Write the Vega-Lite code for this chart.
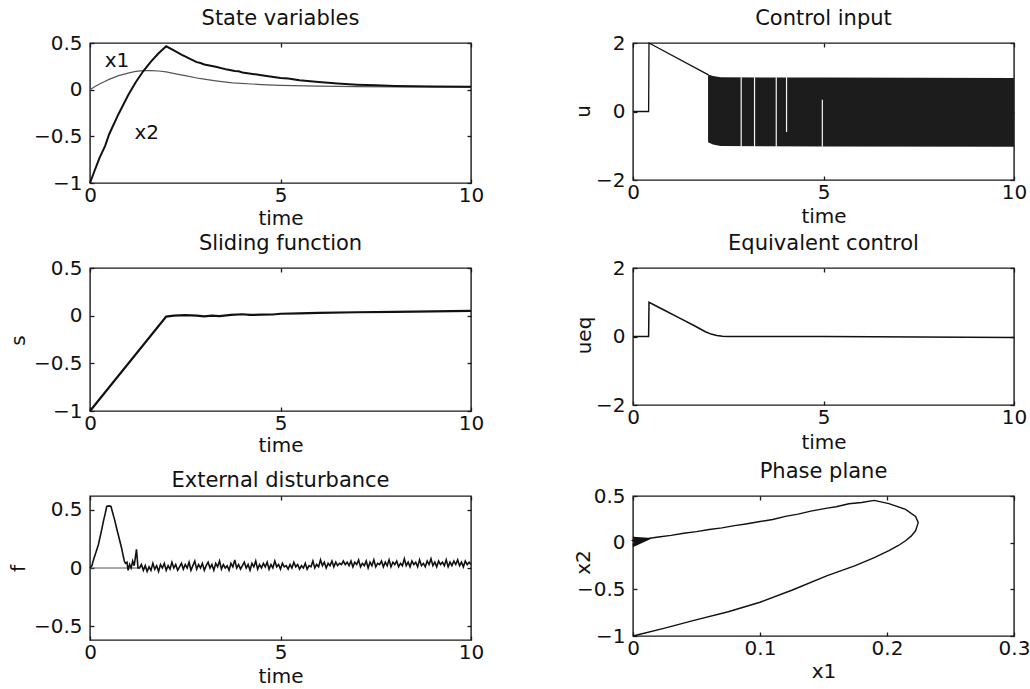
{
"$schema": "https://vega.github.io/schema/vega-lite/v6.json",
"background": "white",
"padding": {"left": 7, "top": 7, "right": 0, "bottom": 0},
"bounds": "flush",
"columns": 2,
"spacing": {"row": 85, "column": 162},
"config": {
  "font": "DejaVu Sans",
  "view": {"stroke": "#1a1a1a", "strokeWidth": 1.4},
  "axis": {"grid": false, "domain": false, "labelFont": "DejaVu Sans", "labelFontSize": 20, "labelColor": "#111", "titleFont": "DejaVu Sans", "titleFontSize": 20, "titleFontWeight": "normal", "titleColor": "#111", "tickColor": "#1a1a1a", "tickWidth": 1.3, "labelFlush": false, "labelOverlap": false},
  "title": {"font": "DejaVu Sans", "fontSize": 21, "fontWeight": "normal", "color": "#111", "offset": 0, "baseline": "alphabetic", "frame": "group", "anchor": "middle"}
},
"datasets": {
  "x1": [{"t":0,"v":0},{"t":0.1,"v":0.025},{"t":0.25,"v":0.06},{"t":0.4,"v":0.09},{"t":0.5,"v":0.11},{"t":0.75,"v":0.15},{"t":1,"v":0.178},{"t":1.2,"v":0.195},{"t":1.4,"v":0.203},{"t":1.6,"v":0.205},{"t":1.8,"v":0.2},{"t":2,"v":0.19},{"t":2.25,"v":0.17},{"t":2.5,"v":0.15},{"t":2.87,"v":0.12},{"t":3.3,"v":0.095},{"t":3.74,"v":0.072},{"t":4.5,"v":0.055},{"t":5,"v":0.047},{"t":6,"v":0.038},{"t":7,"v":0.033},{"t":8,"v":0.03},{"t":10,"v":0.027}],
  "x2": [{"t":0,"v":-1},{"t":0.1,"v":-0.89},{"t":0.25,"v":-0.73},{"t":0.4,"v":-0.6},{"t":0.5,"v":-0.48},{"t":0.75,"v":-0.26},{"t":1,"v":-0.06},{"t":1.2,"v":0.08},{"t":1.4,"v":0.2},{"t":1.6,"v":0.3},{"t":1.8,"v":0.39},{"t":2,"v":0.465},{"t":2.2,"v":0.42},{"t":2.4,"v":0.375},{"t":2.6,"v":0.335},{"t":2.8,"v":0.295},{"t":2.9,"v":0.285},{"t":3.0,"v":0.27},{"t":3.3,"v":0.245},{"t":3.6,"v":0.215},{"t":3.8,"v":0.2},{"t":3.9,"v":0.198},{"t":4.0,"v":0.185},{"t":4.5,"v":0.155},{"t":5,"v":0.125},{"t":5.2,"v":0.12},{"t":5.5,"v":0.1},{"t":6,"v":0.082},{"t":6.5,"v":0.066},{"t":7,"v":0.054},{"t":7.5,"v":0.046},{"t":8,"v":0.04},{"t":9,"v":0.034},{"t":10,"v":0.03}],
  "labels1": [{"t":0.71,"v":0.31,"lab":"x1"},{"t":1.49,"v":-0.46,"lab":"x2"}],
  "u": [{"t":0,"v":0},{"t":0.41,"v":0},{"t":0.42,"v":2},{"t":1.98,"v":1.07}],
  "band": [{"t":1.97,"hi":1.08,"lo":-0.9},{"t":2.1,"hi":1.04,"lo":-0.96},{"t":2.3,"hi":1.0,"lo":-1.01},{"t":5,"hi":0.99,"lo":-1.02},{"t":10,"hi":0.98,"lo":-1.03}],
  "gaps": [{"t":2.84,"hi":1.0,"lo":-1.03},{"t":3.19,"hi":1.0,"lo":-1.03},{"t":3.76,"hi":1.0,"lo":-1.03},{"t":4.03,"hi":1.0,"lo":-0.6},{"t":4.97,"hi":0.34,"lo":-1.03}],
  "s": [{"t":0,"v":-1},{"t":2.0,"v":-0.01},{"t":2.2,"v":0.0},{"t":2.5,"v":0.005},{"t":2.8,"v":0.0},{"t":3.0,"v":-0.008},{"t":3.2,"v":0.0},{"t":3.4,"v":-0.005},{"t":3.7,"v":0.008},{"t":4.0,"v":0.015},{"t":4.2,"v":0.008},{"t":4.5,"v":0.01},{"t":4.8,"v":0.012},{"t":5.0,"v":0.02},{"t":5.5,"v":0.025},{"t":6.0,"v":0.03},{"t":7.0,"v":0.036},{"t":8.0,"v":0.04},{"t":9.0,"v":0.045},{"t":10,"v":0.05}],
  "ueq": [{"t":0,"v":0},{"t":0.41,"v":0},{"t":0.42,"v":1.0},{"t":0.8,"v":0.78},{"t":1.2,"v":0.55},{"t":1.6,"v":0.32},{"t":1.9,"v":0.14},{"t":2.05,"v":0.07},{"t":2.2,"v":0.03},{"t":2.35,"v":0.005},{"t":2.5,"v":0.0},{"t":5,"v":0.0},{"t":10,"v":-0.03}],
  "f0": [{"t":0,"v":0},{"t":1.3,"v":0}],
  "f": [{"t":0,"v":0},{"t":0.05,"v":0.02},{"t":0.1,"v":0.08},{"t":0.15,"v":0.13},{"t":0.22,"v":0.2},{"t":0.3,"v":0.32},{"t":0.35,"v":0.4},{"t":0.4,"v":0.47},{"t":0.44,"v":0.53},{"t":0.5,"v":0.535},{"t":0.55,"v":0.53},{"t":0.6,"v":0.47},{"t":0.65,"v":0.41},{"t":0.7,"v":0.34},{"t":0.77,"v":0.25},{"t":0.83,"v":0.17},{"t":0.9,"v":0.06},{"t":0.93,"v":0.04},{"t":0.97,"v":0.05},{"t":1.0,"v":-0.02},{"t":1.04,"v":0.03},{"t":1.08,"v":0.0},{"t":1.12,"v":0.06},{"t":1.16,"v":0.02},{"t":1.22,"v":0.16},{"t":1.26,"v":0.0},
  {"t":1.30,"v":0},{"t":1.35,"v":0.03},{"t":1.40,"v":-0.02},{"t":1.45,"v":0.02},{"t":1.50,"v":-0.03},{"t":1.55,"v":0.01},{"t":1.60,"v":-0.02},{"t":1.65,"v":0.04},{"t":1.70,"v":-0.01},{"t":1.75,"v":0.02},{"t":1.80,"v":-0.03},{"t":1.85,"v":0.03},{"t":1.90,"v":0},{"t":1.95,"v":0.04},{"t":2.00,"v":-0.02},{"t":2.05,"v":0.02},{"t":2.10,"v":-0.01},{"t":2.15,"v":0.05},{"t":2.20,"v":0},{"t":2.25,"v":0.03},{"t":2.30,"v":-0.02},{"t":2.35,"v":0.01},{"t":2.40,"v":0.04},{"t":2.45,"v":-0.01},{"t":2.50,"v":0.03},{"t":2.55,"v":0},{"t":2.60,"v":0.05},{"t":2.65,"v":-0.02},{"t":2.70,"v":0.02},{"t":2.75,"v":0.06},{"t":2.80,"v":-0.01},{"t":2.85,"v":0.03},{"t":2.90,"v":0},{"t":2.95,"v":0.04},{"t":3.00,"v":-0.02},{"t":3.05,"v":0.02},{"t":3.10,"v":0.05},{"t":3.15,"v":0},{"t":3.20,"v":0.03},{"t":3.25,"v":-0.02},{"t":3.30,"v":0.04},{"t":3.35,"v":0.01},{"t":3.40,"v":0.06},{"t":3.45,"v":-0.01},{"t":3.50,"v":0.03},{"t":3.55,"v":0},{"t":3.60,"v":0.02},{"t":3.65,"v":-0.02},{"t":3.70,"v":0.04},{"t":3.75,"v":0.01},{"t":3.80,"v":0.07},{"t":3.85,"v":0},{"t":3.90,"v":0.03},{"t":3.95,"v":-0.01},{"t":4.00,"v":0.02},{"t":4.05,"v":0.05},{"t":4.10,"v":0},{"t":4.15,"v":0.03},{"t":4.20,"v":-0.02},{"t":4.25,"v":0.04},{"t":4.30,"v":0.01},{"t":4.35,"v":0.06},{"t":4.40,"v":-0.01},{"t":4.45,"v":0.03},{"t":4.50,"v":0},{"t":4.55,"v":0.04},{"t":4.60,"v":0.01},{"t":4.65,"v":0.05},{"t":4.70,"v":-0.01},{"t":4.75,"v":0.03},{"t":4.80,"v":0},{"t":4.85,"v":0.06},{"t":4.90,"v":0.01},{"t":4.95,"v":0.03},{"t":5.00,"v":-0.01},{"t":5.05,"v":0.04},{"t":5.10,"v":0.01},{"t":5.15,"v":0.02},{"t":5.20,"v":-0.01},{"t":5.25,"v":0.03},{"t":5.30,"v":0},{"t":5.35,"v":0.05},{"t":5.40,"v":0.01},{"t":5.45,"v":0.03},{"t":5.50,"v":-0.01},{"t":5.55,"v":0.02},{"t":5.60,"v":0},{"t":5.65,"v":0.04},{"t":5.70,"v":-0.01},{"t":5.75,"v":0.02},{"t":5.80,"v":0.01},{"t":5.85,"v":0.06},{"t":5.90,"v":0},{"t":5.95,"v":0.03},{"t":6.00,"v":0.01},{"t":6.05,"v":0.07},{"t":6.10,"v":0.02},{"t":6.15,"v":0.05},{"t":6.20,"v":0},{"t":6.25,"v":0.04},{"t":6.30,"v":0.02},{"t":6.35,"v":0.06},{"t":6.40,"v":0.01},{"t":6.45,"v":0.05},{"t":6.50,"v":0.02},{"t":6.55,"v":0.04},{"t":6.60,"v":0.03},{"t":6.65,"v":0.06},{"t":6.70,"v":0.03},{"t":6.75,"v":0.05},{"t":6.80,"v":0.02},{"t":6.85,"v":0.06},{"t":6.90,"v":0.01},{"t":6.95,"v":0.05},{"t":7.00,"v":0.03},{"t":7.05,"v":0.07},{"t":7.10,"v":0.01},{"t":7.15,"v":0.04},{"t":7.20,"v":0.02},{"t":7.25,"v":0.06},{"t":7.30,"v":0},{"t":7.35,"v":0.05},{"t":7.40,"v":0.02},{"t":7.45,"v":0.07},{"t":7.50,"v":0.01},{"t":7.55,"v":0.04},{"t":7.60,"v":0.03},{"t":7.65,"v":0.06},{"t":7.70,"v":0.01},{"t":7.75,"v":0.05},{"t":7.80,"v":0.02},{"t":7.85,"v":0.07},{"t":7.90,"v":0.01},{"t":7.95,"v":0.05},{"t":8.00,"v":0.03},{"t":8.05,"v":0.06},{"t":8.10,"v":0.01},{"t":8.15,"v":0.04},{"t":8.20,"v":0.02},{"t":8.25,"v":0.08},{"t":8.30,"v":0.02},{"t":8.35,"v":0.05},{"t":8.40,"v":0.01},{"t":8.45,"v":0.06},{"t":8.50,"v":0.03},{"t":8.55,"v":0.05},{"t":8.60,"v":0.01},{"t":8.65,"v":0.07},{"t":8.70,"v":0.02},{"t":8.75,"v":0.04},{"t":8.80,"v":0.01},{"t":8.85,"v":0.06},{"t":8.90,"v":0.03},{"t":8.95,"v":0.08},{"t":9.00,"v":0.02},{"t":9.05,"v":0.05},{"t":9.10,"v":0.01},{"t":9.15,"v":0.06},{"t":9.20,"v":0.03},{"t":9.25,"v":0.05},{"t":9.30,"v":0.02},{"t":9.35,"v":0.07},{"t":9.40,"v":0.01},{"t":9.45,"v":0.05},{"t":9.50,"v":0.02},{"t":9.55,"v":0.06},{"t":9.60,"v":0.03},{"t":9.65,"v":0.07},{"t":9.70,"v":0.02},{"t":9.75,"v":0.05},{"t":9.80,"v":0.01},{"t":9.85,"v":0.06},{"t":9.90,"v":0.03},{"t":9.95,"v":0.05},{"t":10.0,"v":0.03}],
  "pp": [{"i":0,"a":0,"b":-1},{"i":1,"a":0.025,"b":-0.915},{"i":2,"a":0.048,"b":-0.833},{"i":3,"a":0.075,"b":-0.74},{"i":4,"a":0.1,"b":-0.638},{"i":5,"a":0.125,"b":-0.51},{"i":6,"a":0.153,"b":-0.353},{"i":7,"a":0.175,"b":-0.246},{"i":8,"a":0.19,"b":-0.16},{"i":9,"a":0.2015,"b":-0.086},{"i":10,"a":0.209,"b":-0.03},{"i":11,"a":0.2146,"b":0.02},{"i":12,"a":0.219,"b":0.07},{"i":13,"a":0.2225,"b":0.127},{"i":14,"a":0.2246,"b":0.215},{"i":15,"a":0.2225,"b":0.28},{"i":16,"a":0.2146,"b":0.357},{"i":17,"a":0.2015,"b":0.418},{"i":18,"a":0.19,"b":0.453},{"i":19,"a":0.18,"b":0.43},{"i":20,"a":0.17,"b":0.417},{"i":21,"a":0.16,"b":0.385},{"i":22,"a":0.153,"b":0.37},{"i":23,"a":0.14,"b":0.338},{"i":24,"a":0.13,"b":0.306},{"i":25,"a":0.12,"b":0.282},{"i":26,"a":0.11,"b":0.248},{"i":27,"a":0.1,"b":0.227},{"i":28,"a":0.09,"b":0.203},{"i":29,"a":0.08,"b":0.182},{"i":30,"a":0.07,"b":0.158},{"i":31,"a":0.06,"b":0.141},{"i":32,"a":0.05,"b":0.118},{"i":33,"a":0.04,"b":0.101},{"i":34,"a":0.03,"b":0.078},{"i":35,"a":0.02,"b":0.061},{"i":36,"a":0.012,"b":0.045},{"i":37,"a":0.0,"b":0.055},{"i":38,"a":0.012,"b":0.035},{"i":39,"a":0.0,"b":-0.04},{"i":40,"a":0.01,"b":0.03},{"i":41,"a":0.0,"b":0.045},{"i":42,"a":0.008,"b":0.02},{"i":43,"a":0.0,"b":-0.03},{"i":44,"a":0.007,"b":0.03},{"i":45,"a":0.0,"b":0.035},{"i":46,"a":0.005,"b":0.0},{"i":47,"a":0.0,"b":-0.02},{"i":48,"a":0.004,"b":0.02},{"i":49,"a":0.0,"b":0.02},{"i":50,"a":0.002,"b":0.0}]
},
"concat": [
  {
    "width": 381, "height": 140,
    "title": "State variables",
    "resolve": {"axis": {"x": "independent", "y": "independent"}},
    "layer": [
      {"data": {"name": "x1"}, "mark": {"type": "line", "color": "#555", "strokeWidth": 1.2},
       "encoding": {
         "x": {"field": "t", "type": "quantitative", "scale": {"domain": [0, 10], "nice": false}, "axis": {"orient": "bottom", "values": [0, 5, 10], "format": ".1~f", "ticks": false, "labelPadding": 2, "title": "time", "titleY": 35, "titleBaseline": "middle"}},
         "y": {"field": "v", "type": "quantitative", "scale": {"domain": [-1, 0.5], "nice": false, "zero": false}, "axis": {"orient": "left", "values": [-1, -0.5, 0, 0.5], "format": ".1~f", "ticks": false, "labelPadding": 8, "title": null}}}},
      {"data": {"name": "x2"}, "mark": {"type": "line", "color": "#111", "strokeWidth": 2}, "encoding": {"x": {"field": "t", "type": "quantitative", "scale": {"domain": [0, 10], "nice": false}, "axis": null}, "y": {"field": "v", "type": "quantitative", "scale": {"domain": [-1, 0.5], "nice": false, "zero": false}, "axis": null}}},
      {"data": {"name": "labels1"}, "mark": {"type": "text", "fontSize": 20, "font": "DejaVu Sans", "color": "#111", "align": "center", "baseline": "middle"}, "encoding": {"x": {"field": "t", "type": "quantitative", "scale": {"domain": [0, 10], "nice": false}, "axis": null}, "y": {"field": "v", "type": "quantitative", "scale": {"domain": [-1, 0.5], "nice": false, "zero": false}, "axis": null}, "text": {"field": "lab"}}},
      {"data": {"name": "x1"}, "mark": {"type": "line", "strokeOpacity": 0}, "encoding": {"x": {"field": "t", "type": "quantitative", "scale": {"domain": [0, 10], "nice": false}, "axis": {"orient": "top", "values": [0, 5, 10], "labels": false, "tickSize": -4, "title": null}}, "y": {"field": "v", "type": "quantitative", "scale": {"domain": [-1, 0.5], "nice": false, "zero": false}, "axis": {"orient": "right", "values": [-1, -0.5, 0, 0.5], "labels": false, "tickSize": -4, "title": null}}}},
      {"data": {"name": "x1"}, "mark": {"type": "line", "strokeOpacity": 0}, "encoding": {"x": {"field": "t", "type": "quantitative", "scale": {"domain": [0, 10], "nice": false}, "axis": {"orient": "bottom", "values": [0, 5, 10], "labels": false, "tickSize": -4, "title": null}}, "y": {"field": "v", "type": "quantitative", "scale": {"domain": [-1, 0.5], "nice": false, "zero": false}, "axis": {"orient": "left", "values": [-1, -0.5, 0, 0.5], "labels": false, "tickSize": -4, "title": null}}}}
    ]
  },
  {
    "width": 381, "height": 137,
    "title": "Control input",
    "resolve": {"axis": {"x": "independent", "y": "independent"}},
    "layer": [
      {"data": {"name": "u"}, "mark": {"type": "line", "color": "#111", "strokeWidth": 1.3},
       "encoding": {
         "x": {"field": "t", "type": "quantitative", "scale": {"domain": [0, 10], "nice": false}, "axis": {"orient": "bottom", "values": [0, 5, 10], "format": ".1~f", "ticks": false, "labelPadding": 2, "title": "time", "titleY": 36, "titleBaseline": "middle"}},
         "y": {"field": "v", "type": "quantitative", "scale": {"domain": [-2, 2], "nice": false, "zero": false}, "axis": {"orient": "left", "values": [-2, 0, 2], "format": ".1~f", "ticks": false, "labelPadding": 8, "title": "u", "titleX": -50, "titleY": 68, "titleAngle": 270, "titleBaseline": "middle", "titleAlign": "center"}}}},
      {"data": {"name": "band"}, "mark": {"type": "area", "color": "#1c1c1c", "opacity": 1}, "encoding": {"x": {"field": "t", "type": "quantitative", "scale": {"domain": [0, 10], "nice": false}, "axis": null}, "y": {"field": "hi", "type": "quantitative", "scale": {"domain": [-2, 2], "nice": false, "zero": false}, "axis": null}, "y2": {"field": "lo"}}},
      {"data": {"name": "gaps"}, "mark": {"type": "rule", "color": "#f4f4f4", "strokeWidth": 1.2}, "encoding": {"x": {"field": "t", "type": "quantitative", "scale": {"domain": [0, 10], "nice": false}, "axis": null}, "y": {"field": "hi", "type": "quantitative", "scale": {"domain": [-2, 2], "nice": false, "zero": false}, "axis": null}, "y2": {"field": "lo"}}},
      {"data": {"name": "u"}, "mark": {"type": "line", "strokeOpacity": 0}, "encoding": {"x": {"field": "t", "type": "quantitative", "scale": {"domain": [0, 10], "nice": false}, "axis": {"orient": "top", "values": [0, 5, 10], "labels": false, "tickSize": -4, "title": null}}, "y": {"field": "v", "type": "quantitative", "scale": {"domain": [-2, 2], "nice": false, "zero": false}, "axis": {"orient": "right", "values": [-2, 0, 2], "labels": false, "tickSize": -4, "title": null}}}},
      {"data": {"name": "u"}, "mark": {"type": "line", "strokeOpacity": 0}, "encoding": {"x": {"field": "t", "type": "quantitative", "scale": {"domain": [0, 10], "nice": false}, "axis": {"orient": "bottom", "values": [0, 5, 10], "labels": false, "tickSize": -4, "title": null}}, "y": {"field": "v", "type": "quantitative", "scale": {"domain": [-2, 2], "nice": false, "zero": false}, "axis": {"orient": "left", "values": [-2, 0, 2], "labels": false, "tickSize": -4, "title": null}}}}
    ]
  },
  {
    "width": 381, "height": 143,
    "title": "Sliding function",
    "resolve": {"axis": {"x": "independent", "y": "independent"}},
    "layer": [
      {"data": {"name": "s"}, "mark": {"type": "line", "color": "#111", "strokeWidth": 2.2},
       "encoding": {
         "x": {"field": "t", "type": "quantitative", "scale": {"domain": [0, 10], "nice": false}, "axis": {"orient": "bottom", "values": [0, 5, 10], "format": ".1~f", "ticks": false, "labelPadding": 2, "title": "time", "titleY": 34, "titleBaseline": "middle"}},
         "y": {"field": "v", "type": "quantitative", "scale": {"domain": [-1, 0.5], "nice": false, "zero": false}, "axis": {"orient": "left", "values": [-1, -0.5, 0, 0.5], "format": ".1~f", "ticks": false, "labelPadding": 8, "title": "s", "titleX": -72, "titleY": 72, "titleAngle": 270, "titleBaseline": "middle", "titleAlign": "center"}}}},
      {"data": {"name": "s"}, "mark": {"type": "line", "strokeOpacity": 0}, "encoding": {"x": {"field": "t", "type": "quantitative", "scale": {"domain": [0, 10], "nice": false}, "axis": {"orient": "top", "values": [0, 5, 10], "labels": false, "tickSize": -4, "title": null}}, "y": {"field": "v", "type": "quantitative", "scale": {"domain": [-1, 0.5], "nice": false, "zero": false}, "axis": {"orient": "right", "values": [-1, -0.5, 0, 0.5], "labels": false, "tickSize": -4, "title": null}}}},
      {"data": {"name": "s"}, "mark": {"type": "line", "strokeOpacity": 0}, "encoding": {"x": {"field": "t", "type": "quantitative", "scale": {"domain": [0, 10], "nice": false}, "axis": {"orient": "bottom", "values": [0, 5, 10], "labels": false, "tickSize": -4, "title": null}}, "y": {"field": "v", "type": "quantitative", "scale": {"domain": [-1, 0.5], "nice": false, "zero": false}, "axis": {"orient": "left", "values": [-1, -0.5, 0, 0.5], "labels": false, "tickSize": -4, "title": null}}}}
    ]
  },
  {
    "width": 381, "height": 137,
    "title": "Equivalent control",
    "resolve": {"axis": {"x": "independent", "y": "independent"}},
    "layer": [
      {"data": {"name": "ueq"}, "mark": {"type": "line", "color": "#111", "strokeWidth": 1.5},
       "encoding": {
         "x": {"field": "t", "type": "quantitative", "scale": {"domain": [0, 10], "nice": false}, "axis": {"orient": "bottom", "values": [0, 5, 10], "format": ".1~f", "ticks": false, "labelPadding": 2, "title": "time", "titleY": 37, "titleBaseline": "middle"}},
         "y": {"field": "v", "type": "quantitative", "scale": {"domain": [-2, 2], "nice": false, "zero": false}, "axis": {"orient": "left", "values": [-2, 0, 2], "format": ".1~f", "ticks": false, "labelPadding": 8, "title": "ueq", "titleX": -49, "titleY": 67, "titleAngle": 270, "titleBaseline": "middle", "titleAlign": "center"}}}},
      {"data": {"name": "ueq"}, "mark": {"type": "line", "strokeOpacity": 0}, "encoding": {"x": {"field": "t", "type": "quantitative", "scale": {"domain": [0, 10], "nice": false}, "axis": {"orient": "top", "values": [0, 5, 10], "labels": false, "tickSize": -4, "title": null}}, "y": {"field": "v", "type": "quantitative", "scale": {"domain": [-2, 2], "nice": false, "zero": false}, "axis": {"orient": "right", "values": [-2, 0, 2], "labels": false, "tickSize": -4, "title": null}}}},
      {"data": {"name": "ueq"}, "mark": {"type": "line", "strokeOpacity": 0}, "encoding": {"x": {"field": "t", "type": "quantitative", "scale": {"domain": [0, 10], "nice": false}, "axis": {"orient": "bottom", "values": [0, 5, 10], "labels": false, "tickSize": -4, "title": null}}, "y": {"field": "v", "type": "quantitative", "scale": {"domain": [-2, 2], "nice": false, "zero": false}, "axis": {"orient": "left", "values": [-2, 0, 2], "labels": false, "tickSize": -4, "title": null}}}}
    ]
  },
  {
    "width": 381, "height": 144,
    "title": "External disturbance",
    "resolve": {"axis": {"x": "independent", "y": "independent"}},
    "layer": [
      {"data": {"name": "f0"}, "mark": {"type": "line", "color": "#555", "strokeWidth": 1},
       "encoding": {
         "x": {"field": "t", "type": "quantitative", "scale": {"domain": [0, 10], "nice": false}, "axis": {"orient": "bottom", "values": [0, 5, 10], "format": ".1~f", "ticks": false, "labelPadding": 2, "title": "time", "titleY": 36, "titleBaseline": "middle"}},
         "y": {"field": "v", "type": "quantitative", "scale": {"domain": [-0.62, 0.62], "nice": false, "zero": false}, "axis": {"orient": "left", "values": [-0.5, 0, 0.5], "format": ".1~f", "ticks": false, "labelPadding": 8, "title": "f", "titleX": -72, "titleY": 72, "titleAngle": 270, "titleBaseline": "middle", "titleAlign": "center"}}}},
      {"data": {"name": "f"}, "mark": {"type": "line", "color": "#111", "strokeWidth": 1.6}, "encoding": {"x": {"field": "t", "type": "quantitative", "scale": {"domain": [0, 10], "nice": false}, "axis": null}, "y": {"field": "v", "type": "quantitative", "scale": {"domain": [-0.62, 0.62], "nice": false, "zero": false}, "axis": null}}},
      {"data": {"name": "f0"}, "mark": {"type": "line", "strokeOpacity": 0}, "encoding": {"x": {"field": "t", "type": "quantitative", "scale": {"domain": [0, 10], "nice": false}, "axis": {"orient": "top", "values": [0, 5, 10], "labels": false, "tickSize": -4, "title": null}}, "y": {"field": "v", "type": "quantitative", "scale": {"domain": [-0.62, 0.62], "nice": false, "zero": false}, "axis": {"orient": "right", "values": [-0.5, 0, 0.5], "labels": false, "tickSize": -4, "title": null}}}},
      {"data": {"name": "f0"}, "mark": {"type": "line", "strokeOpacity": 0}, "encoding": {"x": {"field": "t", "type": "quantitative", "scale": {"domain": [0, 10], "nice": false}, "axis": {"orient": "bottom", "values": [0, 5, 10], "labels": false, "tickSize": -4, "title": null}}, "y": {"field": "v", "type": "quantitative", "scale": {"domain": [-0.62, 0.62], "nice": false, "zero": false}, "axis": {"orient": "left", "values": [-0.5, 0, 0.5], "labels": false, "tickSize": -4, "title": null}}}}
    ]
  },
  {
    "width": 381, "height": 140,
    "title": "Phase plane",
    "resolve": {"axis": {"x": "independent", "y": "independent"}},
    "layer": [
      {"data": {"name": "pp"}, "mark": {"type": "line", "color": "#111", "strokeWidth": 1.4},
       "encoding": {
         "order": {"field": "i", "type": "quantitative"},
         "x": {"field": "a", "type": "quantitative", "scale": {"domain": [0, 0.3], "nice": false, "zero": false}, "axis": {"orient": "bottom", "values": [0, 0.1, 0.2, 0.3], "format": ".1~f", "ticks": false, "labelPadding": 2, "title": "x1", "titleY": 35, "titleBaseline": "middle"}},
         "y": {"field": "b", "type": "quantitative", "scale": {"domain": [-1, 0.5], "nice": false, "zero": false}, "axis": {"orient": "left", "values": [-1, -0.5, 0, 0.5], "format": ".1~f", "ticks": false, "labelPadding": 8, "title": "x2", "titleX": -50, "titleY": 66, "titleAngle": 270, "titleBaseline": "middle", "titleAlign": "center"}}}},
      {"data": {"name": "pp"}, "mark": {"type": "line", "strokeOpacity": 0}, "encoding": {"order": {"field": "i", "type": "quantitative"}, "x": {"field": "a", "type": "quantitative", "scale": {"domain": [0, 0.3], "nice": false, "zero": false}, "axis": {"orient": "top", "values": [0, 0.1, 0.2, 0.3], "labels": false, "tickSize": -4, "title": null}}, "y": {"field": "b", "type": "quantitative", "scale": {"domain": [-1, 0.5], "nice": false, "zero": false}, "axis": {"orient": "right", "values": [-1, -0.5, 0, 0.5], "labels": false, "tickSize": -4, "title": null}}}},
      {"data": {"name": "pp"}, "mark": {"type": "line", "strokeOpacity": 0}, "encoding": {"order": {"field": "i", "type": "quantitative"}, "x": {"field": "a", "type": "quantitative", "scale": {"domain": [0, 0.3], "nice": false, "zero": false}, "axis": {"orient": "bottom", "values": [0, 0.1, 0.2, 0.3], "labels": false, "tickSize": -4, "title": null}}, "y": {"field": "b", "type": "quantitative", "scale": {"domain": [-1, 0.5], "nice": false, "zero": false}, "axis": {"orient": "left", "values": [-1, -0.5, 0, 0.5], "labels": false, "tickSize": -4, "title": null}}}}
    ]
  }
]
}
